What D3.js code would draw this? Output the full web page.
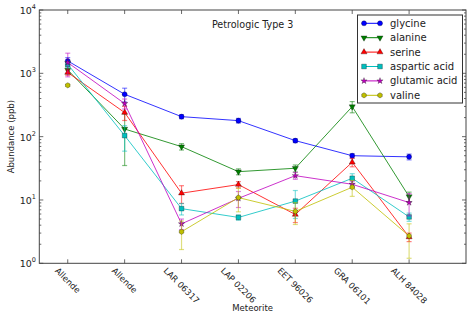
<!DOCTYPE html>
<html lang="en">
<head>
<meta charset="UTF-8">
<title>Petrologic Type 3</title>
<style>
  body { margin: 0; background: #fff; }
  svg { display: block; font-family: "DejaVu Sans", sans-serif; }
</style>
</head>
<script src="https://cdn.jsdelivr.net/npm/d3@7"></script>
<body>
<div id="graphic"></div>
<script>
// data (ppb)
var categories = ["Allende", "Allende", "LAR 06317", "LAP 02206", "EET 96026", "GRA 06101", "ALH 84028"];
var seriesNames = ["glycine", "alanine", "serine", "aspartic acid", "glutamic acid", "valine"];
var glycine = [1570, 467, 207, 179, 86.5, 50, 48];
var glycineErr = [200, 115, 15, 15, 6, 4, 5];
var alanine = [1130, 132, 69.5, 28, 31.7, 298, 11.3];
var alanineErr = [150, 97, 8, 3, 4, 60, 2];
var serine = [1030, 240, 12.8, 17.5, 5.9, 39.4, 2.6];
var serineErr = [100, 60, 4, 2, 1.5, 6, 0.4];
var aspartic = [1390, 104, 7.3, 5.3, 9.6, 22, 5.4];
var asparticErr = [150, 45, 1.5, 0.5, 4.5, 4, 0.8];
var glutamic = [1480, 333, 4.2, 10.6, 24.2, 17.7, 9.1];
var glutamicErr = [600, 60, 0.8, 3, 3, 2, 3.5];
var valine = [647, null, 3.15, 10.9, 6.6, 15.9, 2.7];
var valineErr = [20, null, 1.5, 4.4, 2.5, 4.5, 1.5];
var yTicks = [0, 1, 2, 3, 4];

document.addEventListener('DOMContentLoaded', function () {
    var width = 474, height = 317;
    var left = 39.3, right = 466, top = 10, bottom = 263.3;

    var svg = d3.select('#graphic').append('svg')
        .attr('width', width).attr('height', height);

    var x = d3.scaleLinear().domain([-0.5, 7]).range([left, right]);
    var y = d3.scaleLog().domain([1, 10000]).range([bottom, top]);

    var hexagon = {
        draw: function (ctx, size) {
            var r = Math.sqrt(size / 2.598);
            for (var i = 0; i < 6; i++) {
                var a = Math.PI / 2 + i * Math.PI / 3;
                if (i === 0) ctx.moveTo(r * Math.cos(a), r * Math.sin(a));
                else ctx.lineTo(r * Math.cos(a), r * Math.sin(a));
            }
            ctx.closePath();
        }
    };

    var series = [
        { name: seriesNames[0], values: glycine, err: glycineErr, color: '#0000ff', sym: d3.symbolCircle, size: 20, rot: 0 },
        { name: seriesNames[1], values: alanine, err: alanineErr, color: '#008000', sym: d3.symbolTriangle, size: 16, rot: 180 },
        { name: seriesNames[2], values: serine, err: serineErr, color: '#ff0000', sym: d3.symbolTriangle, size: 16, rot: 0 },
        { name: seriesNames[3], values: aspartic, err: asparticErr, color: '#00bfbf', sym: d3.symbolSquare, size: 22, rot: 0 },
        { name: seriesNames[4], values: glutamic, err: glutamicErr, color: '#bf00bf', sym: d3.symbolStar, size: 12, rot: 0 },
        { name: seriesNames[5], values: valine, err: valineErr, color: '#bfbf00', sym: hexagon, size: 18, rot: 0 }
    ];

    // title inside the axes
    svg.append('text').attr('x', (left + right) / 2).attr('y', 28)
        .attr('text-anchor', 'middle').attr('font-size', 9.6).attr('fill', '#222')
        .text('Petrologic Type 3');

    var plot = svg.append('g');
    var line = d3.line()
        .defined(function (d) { return d != null; })
        .x(function (d, i) { return x(i); })
        .y(function (d) { return y(d); });

    series.forEach(function (s) {
        var g = plot.append('g');
        // error bars
        s.values.forEach(function (v, i) {
            if (v == null) return;
            var lo = Math.max(v - s.err[i], 1.05), hi = v + s.err[i];
            var eb = g.append('g').attr('stroke', s.color).attr('stroke-opacity', 0.5).attr('stroke-width', 1.2);
            eb.append('line').attr('x1', x(i)).attr('x2', x(i)).attr('y1', y(lo)).attr('y2', y(hi));
            eb.append('line').attr('x1', x(i) - 2.5).attr('x2', x(i) + 2.5).attr('y1', y(lo)).attr('y2', y(lo));
            eb.append('line').attr('x1', x(i) - 2.5).attr('x2', x(i) + 2.5).attr('y1', y(hi)).attr('y2', y(hi));
        });
        g.append('path').datum(s.values)
            .attr('d', line).attr('fill', 'none')
            .attr('stroke', s.color).attr('stroke-width', 1).attr('stroke-opacity', 0.8);
        s.values.forEach(function (v, i) {
            if (v == null) return;
            g.append('path')
                .attr('d', d3.symbol().type(s.sym).size(s.size)())
                .attr('transform', 'translate(' + x(i) + ',' + y(v) + ') rotate(' + s.rot + ')')
                .attr('fill', s.color).attr('stroke', '#000').attr('stroke-width', 0.3);
        });
    });

    // axes frame
    svg.append('rect').attr('x', left).attr('y', top)
        .attr('width', right - left).attr('height', bottom - top)
        .attr('fill', 'none').attr('stroke', '#444').attr('stroke-width', 1);

    var ticks = svg.append('g').attr('stroke', '#444').attr('stroke-width', 0.8);
    categories.forEach(function (c, i) {
        ticks.append('line').attr('x1', x(i)).attr('x2', x(i)).attr('y1', bottom).attr('y2', bottom - 4);
        ticks.append('line').attr('x1', x(i)).attr('x2', x(i)).attr('y1', top).attr('y2', top + 4);
    });
    yTicks.forEach(function (p) {
        var v = Math.pow(10, p);
        [left, right].forEach(function (ax) {
            var dir = ax === left ? 1 : -1;
            ticks.append('line').attr('x1', ax).attr('x2', ax + dir * 4).attr('y1', y(v)).attr('y2', y(v));
            if (p < 4) {
                for (var k = 2; k < 10; k++) {
                    ticks.append('line').attr('x1', ax).attr('x2', ax + dir * 2)
                        .attr('y1', y(v * k)).attr('y2', y(v * k));
                }
            }
        });
    });

    // y tick labels
    yTicks.forEach(function (p) {
        var t = svg.append('text').attr('x', 36).attr('y', y(Math.pow(10, p)) + 4)
            .attr('text-anchor', 'end').attr('font-size', 9.5).attr('fill', '#222');
        t.append('tspan').text('10');
        t.append('tspan').attr('dy', -5).attr('font-size', 6.5).text(p);
    });

    // x tick labels, rotated 45 and centred on tick
    categories.forEach(function (c, i) {
        var t = svg.append('text').attr('font-size', 8.5).attr('fill', '#222')
            .attr('text-anchor', 'middle').attr('dominant-baseline', 'central').text(c);
        var L = t.node().getComputedTextLength();
        var w = (L + 8) * Math.SQRT1_2;
        t.attr('transform', 'translate(' + x(i) + ',' + (bottom + 3 + w / 2) + ') rotate(45)');
    });

    svg.append('text').attr('x', (left + right) / 2).attr('y', 311)
        .attr('text-anchor', 'middle').attr('font-size', 8.5).attr('fill', '#222').text('Meteorite');
    svg.append('text').attr('transform', 'translate(14,' + (top + bottom) / 2 + ') rotate(-90)')
        .attr('text-anchor', 'middle').attr('font-size', 8.5).attr('fill', '#222').text('Abundance (ppb)');

    // legend
    var lg = svg.append('g');
    lg.append('rect').attr('x', 357.5).attr('y', 15).attr('width', 105).attr('height', 88)
        .attr('fill', '#fff').attr('stroke', '#333').attr('stroke-width', 1);
    series.forEach(function (s, i) {
        var ly = 23.3 + i * 14.4;
        lg.append('line').attr('x1', 364).attr('x2', 380).attr('y1', ly).attr('y2', ly)
            .attr('stroke', s.color).attr('stroke-width', 1);
        [364, 380].forEach(function (lx) {
            lg.append('path').attr('d', d3.symbol().type(s.sym).size(s.size)())
                .attr('transform', 'translate(' + lx + ',' + ly + ') rotate(' + s.rot + ')')
                .attr('fill', s.color).attr('stroke', '#000').attr('stroke-width', 0.3);
        });
        lg.append('text').attr('x', 390).attr('y', ly + 3.5).attr('font-size', 10)
            .attr('fill', '#222').text(s.name);
    });
});
</script>
</body>
</html>
